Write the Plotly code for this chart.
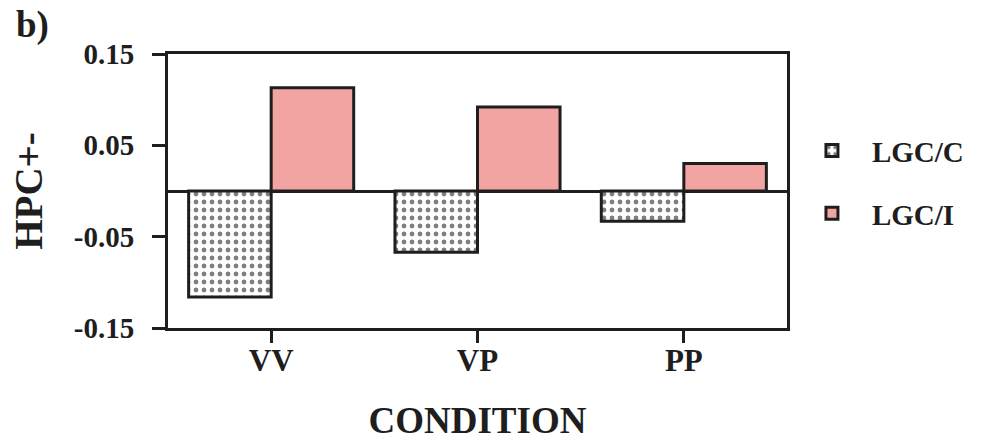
import plotly.graph_objects as go

conditions = ["VV", "VP", "PP"]
lgc_c = [-0.116, -0.067, -0.033]
lgc_i = [0.113, 0.092, 0.030]
series_names = ["LGC/C", "LGC/I"]
y_tickvals = [-0.15, -0.05, 0.05, 0.15]
y_ticktext = ["-0.15", "-0.05", "0.05", "0.15"]

FONT = "Liberation Serif"
INK = "#1e1e1e"
PINK = "#F1A4A1"

def f(size):
    return dict(family=FONT, size=size, color=INK, weight="bold")

fig = go.Figure()
fig.add_trace(go.Bar(
    x=conditions, y=lgc_c, name=series_names[0], legendgroup="c",
    marker=dict(color="white", line=dict(color=INK, width=3),
                pattern=dict(shape=".", fgcolor="#000000", bgcolor="white", size=8, solidity=0.28)),
))
fig.add_trace(go.Bar(
    x=conditions, y=lgc_i, name=series_names[1], legendgroup="i",
    marker=dict(color=PINK, line=dict(color=INK, width=3)),
))

fig.update_layout(
    width=982, height=446,
    margin=dict(l=168, r=195, t=54, b=118, autoexpand=False),
    paper_bgcolor="white", plot_bgcolor="white",
    barmode="group", bargap=0.2, bargroupgap=0,
    font=f(20),
    showlegend=True,
    legend=dict(x=1.008, y=0.74, xanchor="left", yanchor="top",
                font=f(29), itemwidth=70,
                traceorder="grouped", tracegroupgap=22,
                bgcolor="rgba(0,0,0,0)"),
)
fig.add_annotation(text="b)", xref="paper", yref="paper",
                   x=(14 - 168) / 619, y=1.19, xanchor="left", yanchor="top",
                   showarrow=False, font=f(37))

fig.update_yaxes(
    range=[-0.15, 0.15], tickvals=y_tickvals, ticktext=y_ticktext,
    ticks="outside", ticklen=13, tickwidth=3, tickcolor=INK,
    showline=True, linewidth=3, linecolor=INK, mirror=True,
    showgrid=False, zeroline=True, zerolinecolor=INK, zerolinewidth=2.5,
    tickfont=f(29), ticklabelstandoff=12,
    title=dict(text="HPC+-", font=f(39), standoff=20),
    automargin=False,
)
fig.update_xaxes(
    ticks="outside", ticklen=12, tickwidth=2.5, tickcolor=INK,
    showline=True, linewidth=3, linecolor=INK, mirror=True,
    showgrid=False,
    tickfont=f(31), ticklabelstandoff=-9,
    title=dict(text="CONDITION", font=f(37), standoff=30),
    automargin=False,
)

fig.write_html("out.html")
